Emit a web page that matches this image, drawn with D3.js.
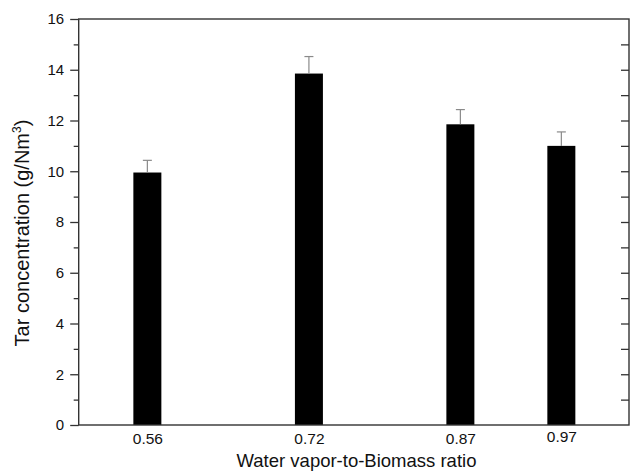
<!DOCTYPE html>
<html>
<head>
<meta charset="utf-8">
<script src="https://cdn.jsdelivr.net/npm/d3@7/dist/d3.min.js"></script>
<style>
  html, body { margin: 0; padding: 0; background: #fff; }
  svg { display: block; font-family: "Liberation Sans", Arial, sans-serif; }
</style>
</head>
<body>
<svg id="chart" width="633" height="471"></svg>
<script>
// ---- data ----
const ratios = [0.56, 0.72, 0.87, 0.97];
const tarConc = [9.95, 13.85, 11.85, 11.0];
const tarErr = [0.48, 0.67, 0.58, 0.55];
const yTicks = [0, 2, 4, 6, 8, 10, 12, 14, 16];
const xTitle = "Water vapor-to-Biomass ratio";
const yTitleMain = "Tar concentration (g/Nm";
const yTitleSup = "3";

// ---- layout ----
const svg = d3.select("#chart");
const L = 78.7, R = 629, T = 19, B = 425;
const x = d3.scaleLinear().domain([0.492, 1.037]).range([L, R]);
const y = d3.scaleLinear().domain([0, 16]).range([B, T]);
const barW = 28;
const axisColor = "#333";

// bars
svg.append("g").selectAll("rect").data(ratios).join("rect")
  .attr("x", d => x(d) - barW / 2)
  .attr("width", barW)
  .attr("y", (d, i) => y(tarConc[i]))
  .attr("height", (d, i) => y(0) - y(tarConc[i]))
  .attr("fill", "#000");

// error bars (upper only)
const eb = svg.append("g").attr("stroke", "#8a8a8a").attr("stroke-width", 1.2);
ratios.forEach((d, i) => {
  eb.append("line").attr("x1", x(d)).attr("x2", x(d))
    .attr("y1", y(tarConc[i])).attr("y2", y(tarConc[i] + tarErr[i]));
  eb.append("line").attr("x1", x(d) - 4.5).attr("x2", x(d) + 4.5)
    .attr("y1", y(tarConc[i] + tarErr[i])).attr("y2", y(tarConc[i] + tarErr[i]));
});

// left axis (outer ticks)
const yAxis = svg.append("g").attr("transform", `translate(${L},0)`)
  .call(d3.axisLeft(y).tickValues(yTicks).tickSize(8.5).tickPadding(6).tickFormat(d3.format("d")));
yAxis.select(".domain").remove();
yAxis.selectAll("line").attr("stroke", axisColor).attr("stroke-width", 1.3);
yAxis.selectAll("text").attr("font-size", 15).attr("fill", "#111")
  .style("font-family", '"Liberation Sans", Arial, sans-serif');
// minor ticks on left
const minor = d3.range(1, 16, 2);
svg.append("g").attr("transform", `translate(${L},0)`)
  .call(d3.axisLeft(y).tickValues(minor).tickSize(5).tickFormat(""))
  .call(g => g.select(".domain").remove())
  .selectAll("line").attr("stroke", axisColor).attr("stroke-width", 1.3);

// right axis (inner ticks every unit)
svg.append("g").attr("transform", `translate(${R},0)`)
  .call(d3.axisLeft(y).tickValues(d3.range(1, 16)).tickSize(8).tickFormat(""))
  .call(g => g.select(".domain").remove())
  .selectAll("line").attr("stroke", axisColor).attr("stroke-width", 1.3);

// bottom axis labels (no tick marks)
const xAxis = svg.append("g").attr("transform", `translate(0,${B})`)
  .call(d3.axisBottom(x).tickValues(ratios).tickSize(0).tickPadding(8).tickFormat(d3.format(".2f")));
xAxis.select(".domain").remove();
xAxis.selectAll("text").attr("font-size", 15.5).attr("fill", "#111")
  .style("font-family", '"Liberation Sans", Arial, sans-serif')
  .attr("dy", d => d === 0.97 ? "0.55em" : "0.71em");

// frame
svg.append("rect").attr("x", L).attr("y", T).attr("width", R - L).attr("height", B - T)
  .attr("fill", "none").attr("stroke", axisColor).attr("stroke-width", 1.4);

// axis titles
svg.append("text").attr("x", (226 + 487) / 2).attr("y", 467)
  .attr("text-anchor", "middle").attr("font-size", 18.5).attr("fill", "#111")
  .text(xTitle);

const yt = svg.append("text")
  .attr("transform", "translate(29,233) rotate(-90)")
  .attr("text-anchor", "middle").attr("font-size", 20).attr("fill", "#111");
yt.append("tspan").text(yTitleMain);
yt.append("tspan").attr("font-size", 12).attr("dy", -8).text(yTitleSup);
yt.append("tspan").attr("dy", 8).text(")");
</script>
</body>
</html>
